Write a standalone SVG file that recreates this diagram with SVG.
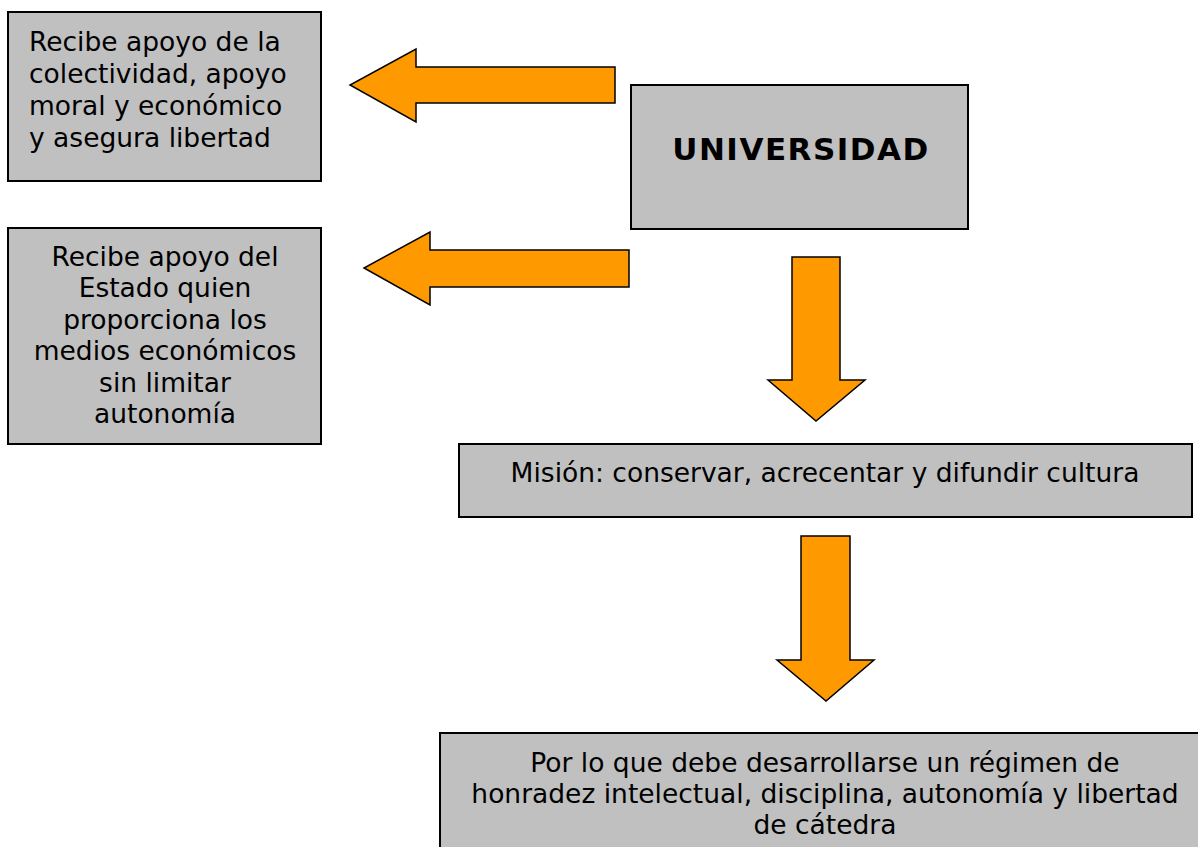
<svg xmlns="http://www.w3.org/2000/svg" width="1198" height="847" viewBox="0 0 1198 847">
<style>
.box{fill:#c0c0c0;stroke:#000;stroke-width:2}
.arr{fill:#ff9900;stroke:#000;stroke-width:1.5;stroke-linejoin:miter}
text{font-family:"DejaVu Sans",Verdana,sans-serif;font-size:26.5px;fill:#000}
.c{text-anchor:middle}
.b{font-weight:bold;font-size:31px;letter-spacing:1.5px}
</style>
<rect width="1198" height="847" fill="#fff"/>
<g id="n1"><rect class="box" x="8" y="12" width="313" height="169"/>
<text x="29" y="51">Recibe apoyo de la</text>
<text x="29" y="83">colectividad, apoyo</text>
<text x="29" y="115">moral y económico</text>
<text x="29" y="147">y asegura libertad</text></g>
<g id="n2"><rect class="box" x="8" y="228" width="313" height="216"/>
<text class="c" x="165" y="266">Recibe apoyo del</text>
<text class="c" x="165" y="297">Estado quien</text>
<text class="c" x="165" y="329">proporciona los</text>
<text class="c" x="165" y="360">medios económicos</text>
<text class="c" x="165" y="392">sin limitar</text>
<text class="c" x="165" y="423">autonomía</text></g>
<g id="n3"><rect class="box" x="631" y="85" width="337" height="144"/>
<text class="c b" x="801" y="160">UNIVERSIDAD</text></g>
<g id="n4"><rect class="box" x="459" y="444" width="733" height="73"/>
<text class="c" x="825" y="482">Misión: conservar, acrecentar y difundir cultura</text></g>
<g id="n5"><rect class="box" x="440" y="733" width="770" height="130"/>
<text class="c" x="825" y="772">Por lo que debe desarrollarse un régimen de</text>
<text class="c" x="825" y="803">honradez intelectual, disciplina, autonomía y libertad</text>
<text class="c" x="825" y="834">de cátedra</text></g>
<g id="connectors">
<polygon class="arr" points="615,67 416,67 416,49 350,85 416,122 416,103 615,103"/>
<polygon class="arr" points="629,250 430,250 430,232 364,268 430,305 430,287 629,287"/>
<polygon class="arr" points="792,257 840,257 840,380 865,380 816,421 768,380 792,380"/>
<polygon class="arr" points="801,536 850,536 850,660 874,660 826,701 777,660 801,660"/>
</g>
</svg>
